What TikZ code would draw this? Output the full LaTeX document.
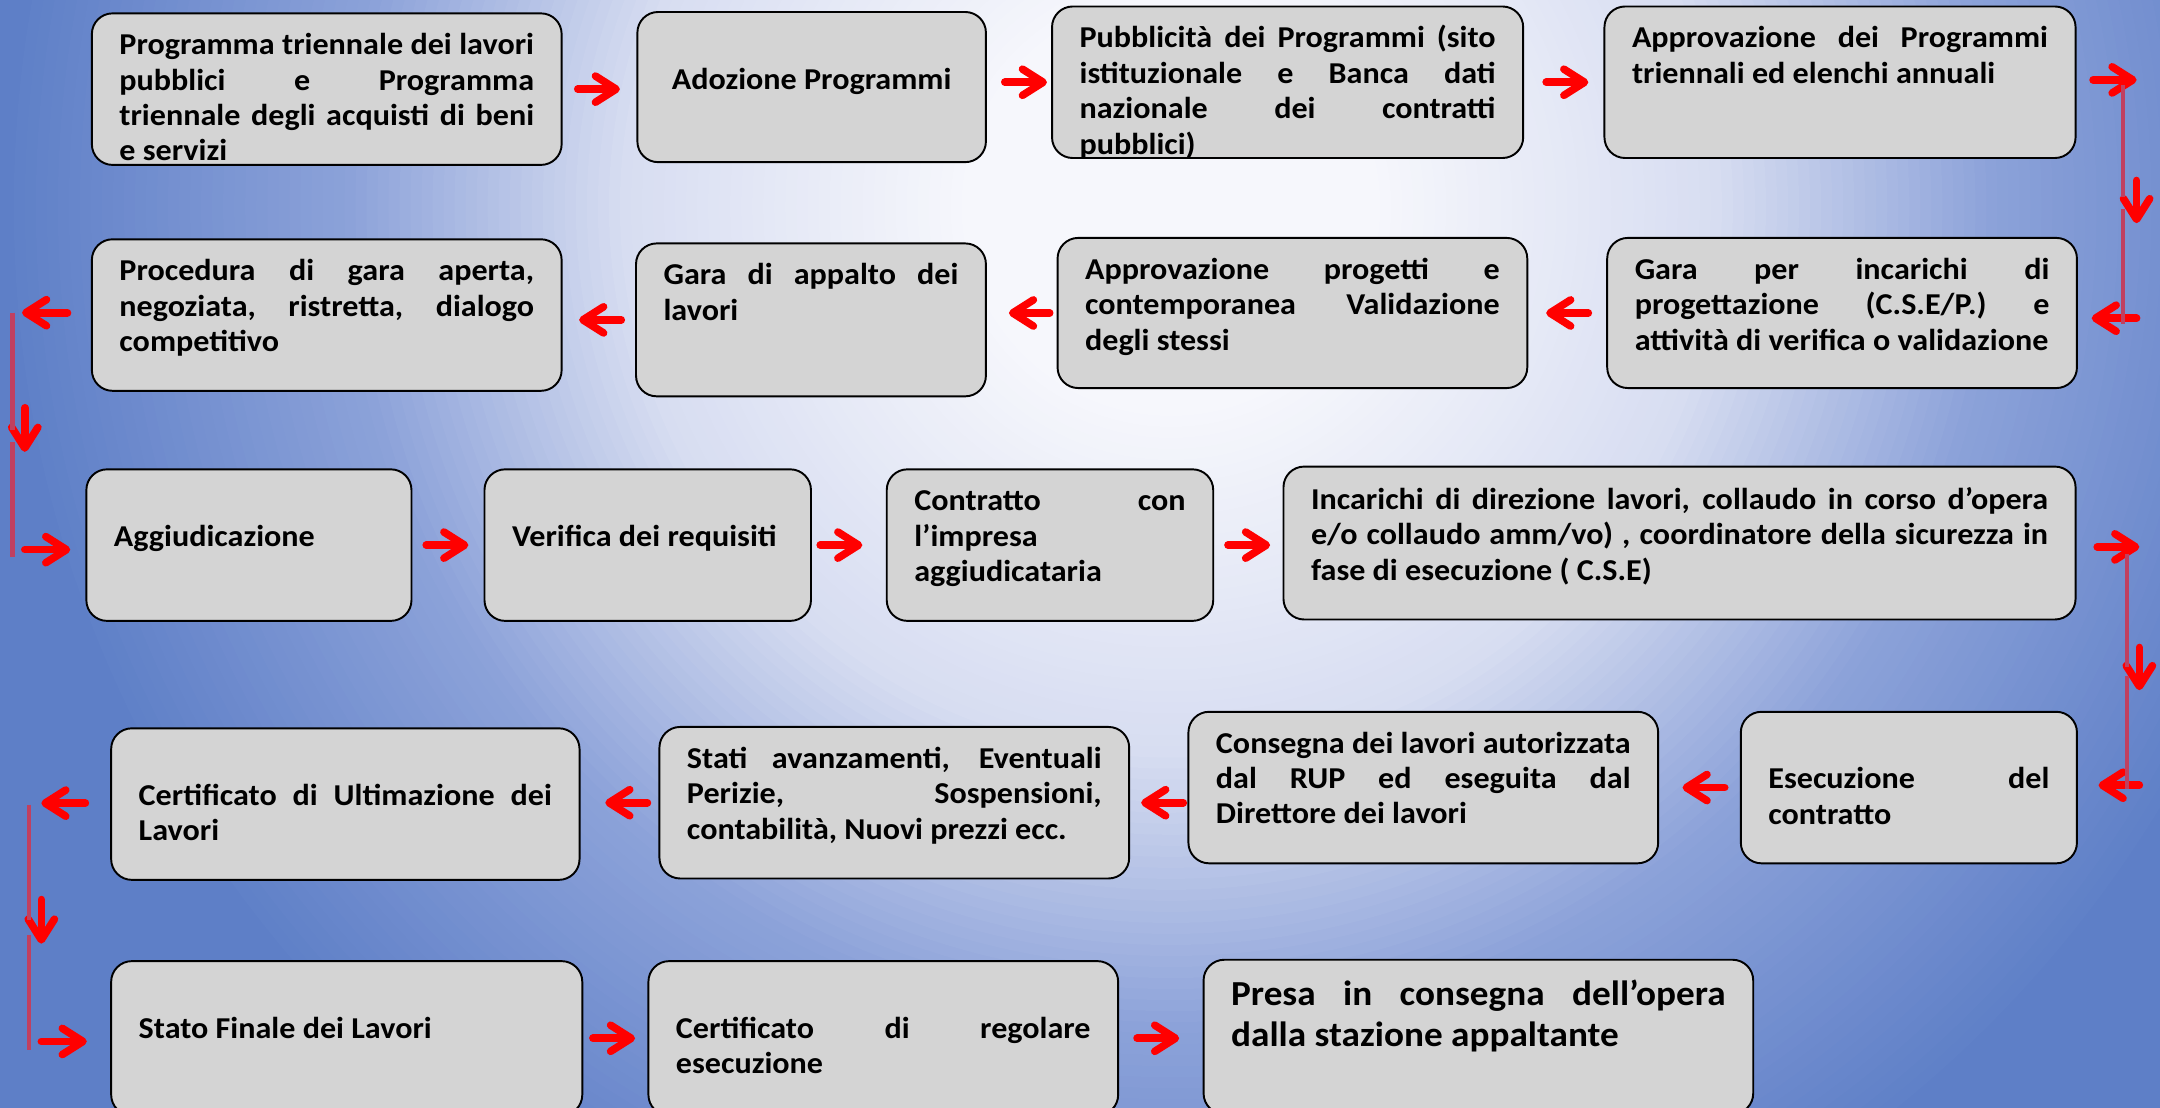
\documentclass[tikz,border=0pt]{standalone}
\usepackage{fontspec}
\setmainfont{Carlito}[FakeStretch=1.06]
\usepackage{xcolor}
\usepackage{tikz}
\usetikzlibrary{arrows.meta,calc}

\definecolor{grigiobox}{RGB}{212,212,212}
\definecolor{rosso}{RGB}{255,0,0}
\definecolor{lineavert}{RGB}{192,64,96}
\definecolor{bgchiaro}{RGB}{246,247,252}
\definecolor{bglav}{RGB}{215,221,241}
\definecolor{bgmedio}{RGB}{140,162,217}
\definecolor{bgblu}{RGB}{94,127,199}

% testo di una casella: larghezza, altezza, spazio sopra, testo
\newcommand{\casella}[4]{\parbox[c][#2][t]{#1}{\fontsize{22}{25.7}\selectfont\bfseries\vspace*{#3}\strut #4}}

% colore dello sfondo a distanza #1 dal centro
\newcommand{\colorecerchio}[1]{%
    \ifdim#1pt>850pt \colorlet{cerchio}{bgblu}%
    \else\ifdim#1pt>600pt \pgfmathsetmacro\perc{(#1-600)/2.5}\colorlet{cerchio}{bgblu!\perc!bgmedio}%
    \else\ifdim#1pt>400pt \pgfmathsetmacro\perc{(#1-400)/2}\colorlet{cerchio}{bgmedio!\perc!bglav}%
    \else\ifdim#1pt>150pt \pgfmathsetmacro\perc{(#1-150)/2.5}\colorlet{cerchio}{bglav!\perc!bgchiaro}%
    \else \colorlet{cerchio}{bgchiaro}\fi\fi\fi\fi}

\tikzset{
    box/.style={draw=black, line width=1.4pt, rounded corners=15pt, fill=grigiobox, anchor=north west, inner sep=0pt},
    freccia/.style={draw=rosso, line width=5.5pt, line cap=round, -{Straight Barb[length=15pt,width=19pt,round]}},
    linea/.style={draw=lineavert, line width=3.2pt}
}

\begin{document}
\begin{tikzpicture}[x=1pt, y=-1pt]
    \useasboundingbox (0,0) rectangle (1568,804);
    \clip (0,0) rectangle (1568,804);
    \fill[bgblu] (0,0) rectangle (1568,804);
    \foreach \r in {1200,1192,...,8} {
        \colorecerchio{\r}
        \fill[cerchio] (850,150) circle (\r);
    }

    % prima riga
    \node[box, minimum width=341pt, minimum height=110pt] (prog) at (66,9) {\casella{301pt}{110pt}{12pt}{Programma triennale dei lavori\linebreak pubblici e Programma\linebreak triennale degli acquisti di beni\linebreak e servizi}};
    \node[box, minimum width=253pt, minimum height=109pt] (adoz) at (462,8) {\casella{213pt}{109pt}{38pt}{\centering Adozione Programmi}};
    \node[box, minimum width=342pt, minimum height=110pt] (pubbl) at (763,4) {\casella{302pt}{110pt}{12pt}{Pubblicità dei Programmi (sito\linebreak istituzionale e Banca dati\linebreak nazionale dei contratti\linebreak pubblici)}};
    \node[box, minimum width=342pt, minimum height=110pt] (appr) at (1164,4) {\casella{302pt}{110pt}{12pt}{Approvazione dei Programmi\linebreak triennali ed elenchi annuali}};

    % seconda riga
    \node[box, minimum width=341pt, minimum height=109pt] (garainc) at (1166,172) {\casella{301pt}{109pt}{12pt}{Gara per incarichi di\linebreak progettazione (C.S.E/P.) e\linebreak attività di verifica o validazione}};
    \node[box, minimum width=341pt, minimum height=109pt] (approg) at (767,172) {\casella{301pt}{109pt}{12pt}{Approvazione progetti e\linebreak contemporanea Validazione\linebreak degli stessi}};
    \node[box, minimum width=254pt, minimum height=111pt] (garapp) at (461,176) {\casella{214pt}{111pt}{12pt}{Gara di appalto dei\linebreak lavori}};
    \node[box, minimum width=341pt, minimum height=110pt] (proc) at (66,173) {\casella{301pt}{110pt}{12pt}{Procedura di gara aperta,\linebreak negoziata, ristretta, dialogo\linebreak competitivo}};

    % terza riga
    \node[box, minimum width=236pt, minimum height=110pt] (aggiud) at (62,340) {\casella{196pt}{110pt}{38pt}{Aggiudicazione}};
    \node[box, minimum width=237pt, minimum height=110pt] (verif) at (351,340) {\casella{197pt}{110pt}{38pt}{Verifica dei requisiti}};
    \node[box, minimum width=237pt, minimum height=110pt] (contr) at (643,340) {\casella{197pt}{110pt}{12pt}{Contratto con\linebreak l’impresa\newline aggiudicataria}};
    \node[box, minimum width=575pt, minimum height=111pt] (incar) at (931,338) {\casella{535pt}{111pt}{13pt}{Incarichi di direzione lavori, collaudo in corso d’opera\linebreak e/o collaudo amm/vo) , coordinatore della sicurezza in\linebreak fase di esecuzione ( C.S.E)}};

    % quarta riga
    \node[box, minimum width=244pt, minimum height=110pt] (esec) at (1263,516) {\casella{204pt}{110pt}{38pt}{Esecuzione del\linebreak contratto}};
    \node[box, minimum width=341pt, minimum height=110pt] (consegna) at (862,516) {\casella{301pt}{110pt}{12pt}{Consegna dei lavori autorizzata\linebreak dal RUP ed eseguita dal\linebreak Direttore dei lavori}};
    \node[box, minimum width=341pt, minimum height=110pt] (stati) at (478,527) {\casella{301pt}{110pt}{12pt}{Stati avanzamenti, Eventuali\linebreak Perizie, Sospensioni,\linebreak contabilità, Nuovi prezzi ecc.}};
    \node[box, minimum width=340pt, minimum height=110pt] (certult) at (80,528) {\casella{300pt}{110pt}{38pt}{Certificato di Ultimazione dei\linebreak Lavori}};

    % quinta riga
    \node[box, minimum width=342pt, minimum height=112pt] (statofin) at (80,697) {\casella{302pt}{112pt}{38pt}{Stato Finale dei Lavori}};
    \node[box, minimum width=341pt, minimum height=112pt] (certreg) at (470,697) {\casella{301pt}{112pt}{38pt}{Certificato di regolare\linebreak esecuzione}};
    \node[box, minimum width=399pt, minimum height=112pt] (presa) at (873,696) {\parbox[c][112pt][t]{359pt}{\fontsize{25.5}{30}\selectfont\bfseries\vspace*{12pt}\strut Presa in consegna dell’opera\linebreak dalla stazione appaltante}};

    % frecce prima riga
    \draw[freccia, shorten <=11pt, shorten >=12pt] (prog.east) -- (prog.east -| adoz.west);
    \draw[freccia, shorten <=13pt, shorten >=3pt] (adoz.east |- pubbl.west) -- (pubbl.west);
    \draw[freccia, shorten <=16pt, shorten >=11pt] (pubbl.east) -- (pubbl.east -| appr.west);
    \coordinate (fine1) at (1551,58);
    \draw[freccia, shorten <=12pt] (appr.east |- fine1) -- (fine1);

    % discesa a destra
    \coordinate (su1) at (1541,62);
    \coordinate (giu1) at (1541,235);
    \coordinate (scende1) at (1551,131);
    \coordinate (inizio2) at (1551,231);
    \draw[freccia] (scende1) -- ++(0,31);
    \draw[freccia, shorten >=10pt] (inizio2) -- (inizio2 -| garainc.east);
    \draw[linea] (su1) -- ++(0,81) ++(0,9) -- (giu1);

    % frecce seconda riga
    \draw[freccia, shorten <=13pt, shorten >=13pt] (garainc.west) -- (garainc.west -| approg.east);
    \draw[freccia, shorten <=5pt, shorten >=16pt] (approg.west) -- (approg.west -| garapp.east);
    \draw[freccia, shorten <=10pt, shorten >=12pt] (garapp.west) -- (garapp.west -| proc.east);
    \coordinate (fine2) at (16,227);
    \draw[freccia, shorten <=17pt] (proc.west |- fine2) -- (fine2);

    % discesa a sinistra
    \coordinate (su2) at (9,227);
    \coordinate (giu2) at (9,404);
    \coordinate (scende2) at (18,296);
    \coordinate (inizio3) at (18,399);
    \draw[freccia] (scende2) -- ++(0,32);
    \draw[freccia, shorten >=11pt] (inizio3) -- (inizio3 -| aggiud.west);
    \draw[linea] (su2) -- ++(0,85) ++(0,9) -- (giu2);

    % frecce terza riga
    \draw[freccia, shorten <=10pt, shorten >=11pt] (aggiud.east) -- (aggiud.east -| verif.west);
    \draw[freccia, shorten <=6pt, shorten >=17pt] (verif.east) -- (verif.east -| contr.west);
    \draw[freccia, shorten <=10pt, shorten >=9pt] (contr.east) -- (contr.east -| incar.west);
    \coordinate (fine3) at (1553,397);
    \draw[freccia, shorten <=15pt] (incar.east |- fine3) -- (fine3);

    % discesa a destra
    \coordinate (su3) at (1544,402);
    \coordinate (giu3) at (1544,573);
    \coordinate (scende3) at (1553,470);
    \coordinate (inizio4) at (1553,570);
    \draw[freccia] (scende3) -- ++(0,31);
    \draw[freccia, shorten >=15pt] (inizio4) -- (inizio4 -| esec.east);
    \draw[linea] (su3) -- ++(0,82) ++(0,7) -- (giu3);

    % frecce quarta riga
    \draw[freccia, shorten <=11pt, shorten >=17pt] (esec.west) -- (esec.west -| consegna.east);
    \draw[freccia, shorten <=3pt, shorten >=8pt] (consegna.west |- stati.east) -- (stati.east);
    \draw[freccia, shorten <=8pt, shorten >=18pt] (stati.west) -- (stati.west -| certult.east);
    \coordinate (fine4) at (30,583);
    \draw[freccia, shorten <=18pt] (certult.west |- fine4) -- (fine4);

    % discesa a sinistra
    \coordinate (su4) at (21,584);
    \coordinate (giu4) at (21,762);
    \coordinate (scende4) at (30,653);
    \coordinate (inizio5) at (30,756);
    \draw[freccia] (scende4) -- ++(0,32);
    \draw[freccia, shorten >=17pt] (inizio5) -- (inizio5 -| statofin.west);
    \draw[linea] (su4) -- ++(0,84) ++(0,11) -- (giu4);

    % frecce quinta riga
    \draw[freccia, shorten <=7pt, shorten >=9pt] (statofin.east) -- (statofin.east -| certreg.west);
    \draw[freccia, shorten <=13pt, shorten >=17pt] (certreg.east) -- (certreg.east -| presa.west);
\end{tikzpicture}
\end{document}
